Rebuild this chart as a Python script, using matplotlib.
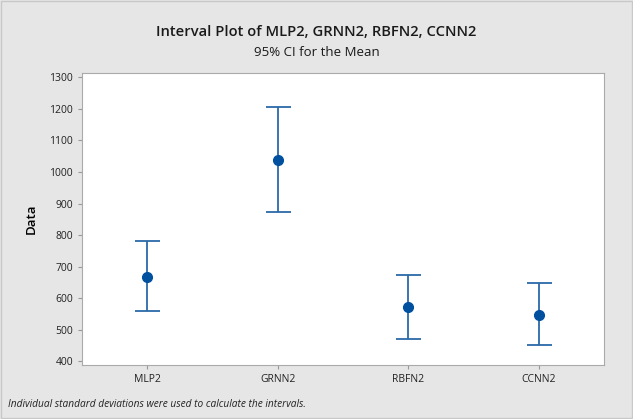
import matplotlib.pyplot as plt
import numpy as np

# interval plot data
groups = ['MLP2', 'GRNN2', 'RBFN2', 'CCNN2']
means = [668, 1038, 571, 547]
lower = [558, 874, 469, 451]
upper = [781, 1207, 674, 648]

plt.rcParams['font.family'] = ['Open Sans', 'DejaVu Sans']

fig = plt.figure(figsize=(6.33, 4.19), dpi=100, facecolor='#e6e6e6')
ax = fig.add_axes([82/633, 1-365/419, 522/633, 292/419])

x = np.arange(1, len(groups)+1)
means = np.array(means)
yerr = [means - np.array(lower), np.array(upper) - means]
ax.errorbar(x, means, yerr=yerr, fmt='none', ecolor='#2b6aa8', elinewidth=1.3,
            capsize=9, capthick=1.3)
ax.plot(x, means, 'o', color='#0050a0', markersize=7)

ax.set_xlim(0.5, 4.5)
ax.set_ylim(388, 1314)
ax.set_yticks(range(400, 1301, 100))
ax.set_xticks(x)
ax.set_xticklabels(groups)
ax.tick_params(labelsize=7.5, color='#999999', length=3, labelcolor='#222222')
for s in ax.spines.values():
    s.set_color('#aaaaaa')
ax.set_ylabel('Data', fontsize=9.5, fontweight='semibold', labelpad=8)

fig.text(0.5, 1-32/419, 'Interval Plot of MLP2, GRNN2, RBFN2, CCNN2', ha='center', va='center',
         fontsize=10.6, fontweight='semibold', color='#1a1a1a')
fig.text(0.5, 1-53/419, '95% CI for the Mean', ha='center', va='center', fontsize=9.5, color='#1a1a1a')
fig.text(8/633, 1-404/419, 'Individual standard deviations were used to calculate the intervals.',
         ha='left', va='center', fontsize=7.3, style='italic', color='#222222')

# thin frame around the whole figure
fig.patches.append(plt.Rectangle((0.002, 0.002), 0.996, 0.996, transform=fig.transFigure,
                                 fill=False, edgecolor='#c8c8c8', linewidth=1))

fig.savefig('out.png', dpi=100, facecolor=fig.get_facecolor())
